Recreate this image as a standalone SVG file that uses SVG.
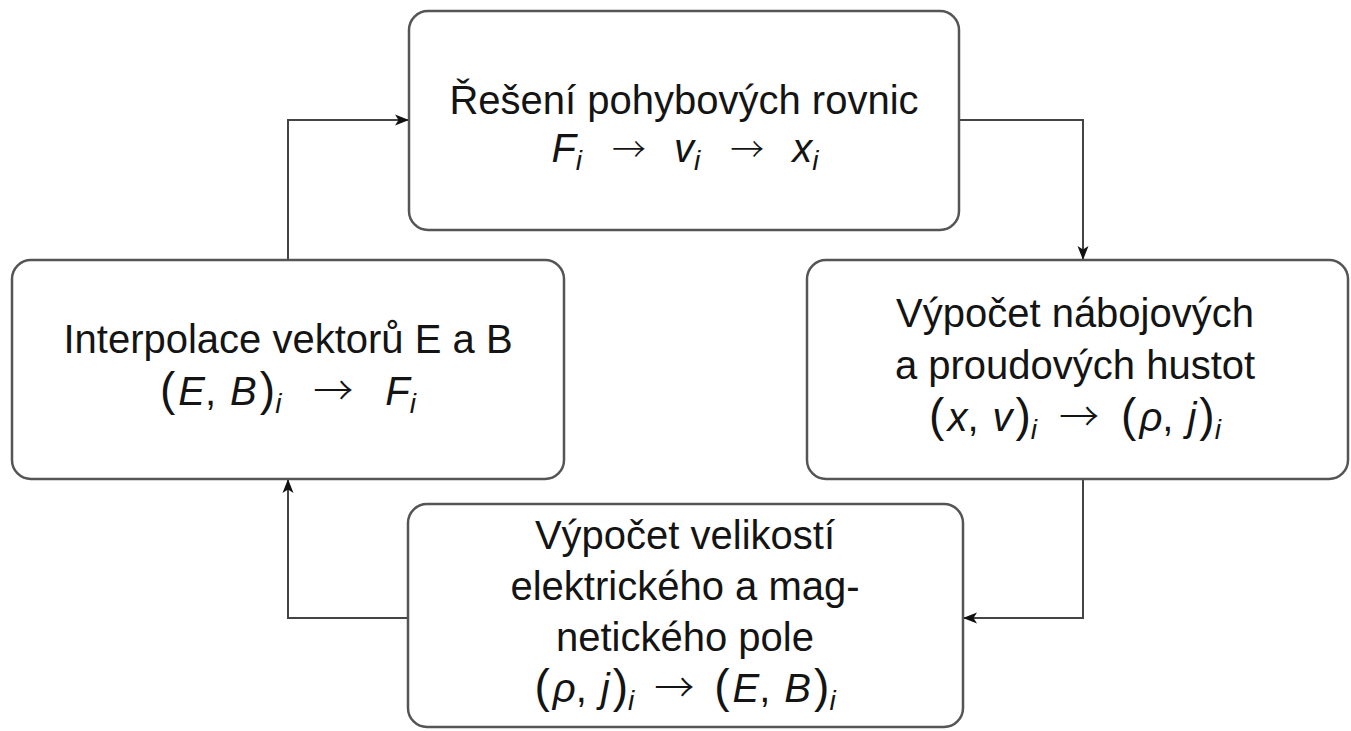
<svg xmlns="http://www.w3.org/2000/svg" width="1351" height="731" viewBox="0 0 1351 731">
<defs>
<style>
.box{fill:#fff;stroke:#555;stroke-width:2.5}
.con{fill:none;stroke:#444;stroke-width:2}
.t{font-family:"Liberation Sans",Arial,"DejaVu Sans",sans-serif;font-size:40px;fill:#141414;text-anchor:middle}
.it{font-style:italic}
.sub{font-size:28px;font-style:italic}
.ar{font-family:"Noto Sans CJK SC","DejaVu Sans",sans-serif;font-size:40px;font-weight:300}
.ar2{font-family:"Noto Sans CJK SC","DejaVu Sans",sans-serif;font-size:34px;font-weight:300}
.p{font-size:46px}
</style>
<marker id="ah" markerUnits="userSpaceOnUse" markerWidth="16" markerHeight="12" refX="14" refY="6" orient="auto">
<path d="M0,0.5 L14,6 L0,11.5 L3.5,6 Z" fill="#111"/>
</marker>
</defs>
<rect width="1351" height="731" fill="#fff"/>
<g id="connectors">
<path class="con" d="M288,260 V120 H409" marker-end="url(#ah)"/>
<path class="con" d="M959,120 H1083 V260" marker-end="url(#ah)"/>
<path class="con" d="M1083,479 V618 H963" marker-end="url(#ah)"/>
<path class="con" d="M408,618 H288 V479" marker-end="url(#ah)"/>
</g>
<g id="node-pohyb">
<rect class="box" x="409" y="11" width="550" height="219" rx="19"/>
<text class="t" x="684" y="114">Řešení pohybových rovnic</text>
<text class="t" x="685" y="162"><tspan class="it">F</tspan><tspan class="sub" dy="8">i</tspan><tspan class="ar2" dx="30" dy="-8">→</tspan><tspan class="it" dx="28">v</tspan><tspan class="sub" dy="8">i</tspan><tspan class="ar2" dx="30" dy="-8">→</tspan><tspan class="it" dx="28">x</tspan><tspan class="sub" dy="8">i</tspan></text>
</g>
<g id="node-interpolace">
<rect class="box" x="12" y="260" width="552" height="219" rx="19"/>
<text class="t" x="288" y="353">Interpolace vektorů E a B</text>
<text class="t" x="288" y="405"><tspan class="p">(</tspan><tspan class="it" dx="3">E</tspan>,<tspan class="it" dx="14">B</tspan><tspan class="p" dx="3">)</tspan><tspan class="sub" dy="8">i</tspan><tspan class="ar" dx="32" dy="-8">→</tspan><tspan class="it" dx="32">F</tspan><tspan class="sub" dy="8">i</tspan></text>
</g>
<g id="node-hustoty">
<rect class="box" x="807" y="260" width="541" height="219" rx="19"/>
<text class="t" x="1075" y="327">Výpočet nábojových</text>
<text class="t" x="1075" y="379">a proudových hustot</text>
<text class="t" x="1075" y="431"><tspan class="p">(</tspan><tspan class="it" dx="3">x</tspan>,<tspan class="it" dx="14">v</tspan><tspan class="p" dx="3">)</tspan><tspan class="sub" dy="8">i</tspan><tspan class="ar" dx="22" dy="-8">→</tspan><tspan class="p" dx="22">(</tspan><tspan class="it" dx="3">ρ</tspan>,<tspan class="it" dx="14">j</tspan><tspan class="p" dx="3">)</tspan><tspan class="sub" dy="8">i</tspan></text>
</g>
<g id="node-pole">
<rect class="box" x="408" y="504" width="555" height="223" rx="19"/>
<text class="t" x="685" y="549">Výpočet velikostí</text>
<text class="t" x="685" y="600">elektrického a mag-</text>
<text class="t" x="685" y="651">netického pole</text>
<text class="t" x="685" y="702"><tspan class="p">(</tspan><tspan class="it" dx="3">ρ</tspan>,<tspan class="it" dx="14">j</tspan><tspan class="p" dx="3">)</tspan><tspan class="sub" dy="8">i</tspan><tspan class="ar" dx="20" dy="-8">→</tspan><tspan class="p" dx="20">(</tspan><tspan class="it" dx="3">E</tspan>,<tspan class="it" dx="14">B</tspan><tspan class="p" dx="3">)</tspan><tspan class="sub" dy="8">i</tspan></text>
</g>
</svg>
